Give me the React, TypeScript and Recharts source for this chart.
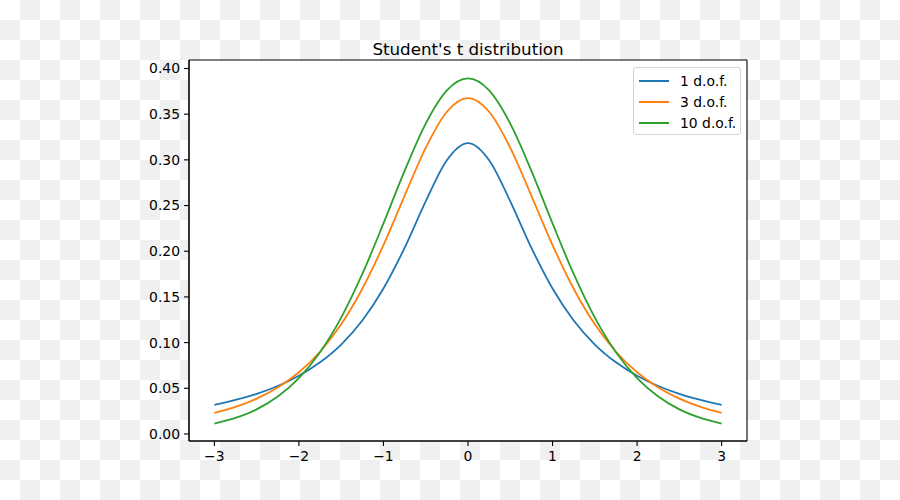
import { LineChart, Line, XAxis, YAxis, CartesianGrid } from "recharts";

// x positions and t-distribution densities
const xs     = [-3, -2.75, -2.5, -2.25, -2, -1.75, -1.5, -1.25, -1, -0.75, -0.5, -0.25, 0,
                0.25, 0.5, 0.75, 1, 1.25, 1.5, 1.75, 2, 2.25, 2.5, 2.75, 3];
const dof1   = [0.0318, 0.0372, 0.0439, 0.0525, 0.0637, 0.0784, 0.0979, 0.1242, 0.1592, 0.2037, 0.2546, 0.2996, 0.3183,
                0.2996, 0.2546, 0.2037, 0.1592, 0.1242, 0.0979, 0.0784, 0.0637, 0.0525, 0.0439, 0.0372, 0.0318];
const dof3   = [0.0230, 0.0297, 0.0387, 0.0509, 0.0675, 0.0900, 0.1200, 0.1589, 0.2067, 0.2607, 0.3132, 0.3527, 0.3676,
                0.3527, 0.3132, 0.2607, 0.2067, 0.1589, 0.1200, 0.0900, 0.0675, 0.0509, 0.0387, 0.0297, 0.0230];
const dof10  = [0.0114, 0.0176, 0.0269, 0.0409, 0.0611, 0.0895, 0.1274, 0.1751, 0.2304, 0.2880, 0.3397, 0.3760, 0.3891,
                0.3760, 0.3397, 0.2880, 0.2304, 0.1751, 0.1274, 0.0895, 0.0611, 0.0409, 0.0269, 0.0176, 0.0114];

const xTicks = [-3, -2, -1, 0, 1, 2, 3];
const yTicks = [0, 0.05, 0.1, 0.15, 0.2, 0.25, 0.3, 0.35, 0.4];

const series = [
  { key: "d1",  name: "1 d.o.f.",  color: "#1f77b4" },
  { key: "d3",  name: "3 d.o.f.",  color: "#ff7f0e" },
  { key: "d10", name: "10 d.o.f.", color: "#2ca02c" },
];

const data = xs.map((x, i) => ({ x, d1: dof1[i], d3: dof3[i], d10: dof10[i] }));

const FONT = "'DejaVu Sans', sans-serif";
const minus = (s: string) => s.replace("-", "\u2212");

function LegendBox() {
  return (
    <div style={{
      position: "absolute", left: 633, top: 67, boxSizing: "border-box", width: 108, height: 68,
      border: "1px solid #d4d4d4", borderRadius: 3, background: "rgba(255,255,255,0.8)",
      padding: "2px 0 0 5px", fontSize: 13.9, color: "#000",
    }}>
      {series.map((s) => (
        <div key={s.key} style={{ display: "flex", alignItems: "center", height: 21.4 }}>
          <span style={{ display: "inline-block", width: 30, height: 2, background: s.color, marginRight: 11 }} />
          <span>{s.name}</span>
        </div>
      ))}
    </div>
  );
}

export default function App() {
  return (
    <div style={{
      position: "absolute", left: 0, top: 0, width: 900, height: 500, fontFamily: FONT,
      background: "repeating-conic-gradient(#f0f0f0 0% 25%, #ffffff 0% 50%) 0 0 / 40px 40px",
    }}>
      <div style={{
        position: "absolute", left: 189, width: 558, top: 39, textAlign: "center",
        fontSize: 16.7, color: "#000",
      }}>
        Student's t distribution
      </div>
      <LineChart width={900} height={500} data={data}
        margin={{ top: 60, right: 153, bottom: 29, left: 129 }}>
        <CartesianGrid fill="#fff" fillOpacity={1} stroke="#000" strokeWidth={1.1}
          horizontalCoordinatesGenerator={({ offset }: any) => [offset.top, offset.top + offset.height]}
          verticalCoordinatesGenerator={({ offset }: any) => [offset.left, offset.left + offset.width]} />
        <XAxis dataKey="x" type="number" domain={[-3.3, 3.3]} ticks={xTicks} allowDataOverflow
          height={30} tickSize={5} tickMargin={5} stroke="#000" strokeWidth={1.1}
          tick={{ fill: "#000", fontSize: 13.9, fontFamily: FONT }}
          tickFormatter={(v) => minus(String(v))} />
        <YAxis type="number" domain={[-0.0077, 0.4093]} ticks={yTicks} allowDataOverflow
          width={60} tickSize={5} tickMargin={4} stroke="#000" strokeWidth={1.1}
          tick={{ fill: "#000", fontSize: 13.9, fontFamily: FONT }}
          tickFormatter={(v) => Number(v).toFixed(2)} />
        {series.map((s) => (
          <Line key={s.key} dataKey={s.key} name={s.name} type="monotone" stroke={s.color}
            strokeWidth={1.8} dot={false} isAnimationActive={false} />
        ))}
      </LineChart>
      <LegendBox />
    </div>
  );
}
